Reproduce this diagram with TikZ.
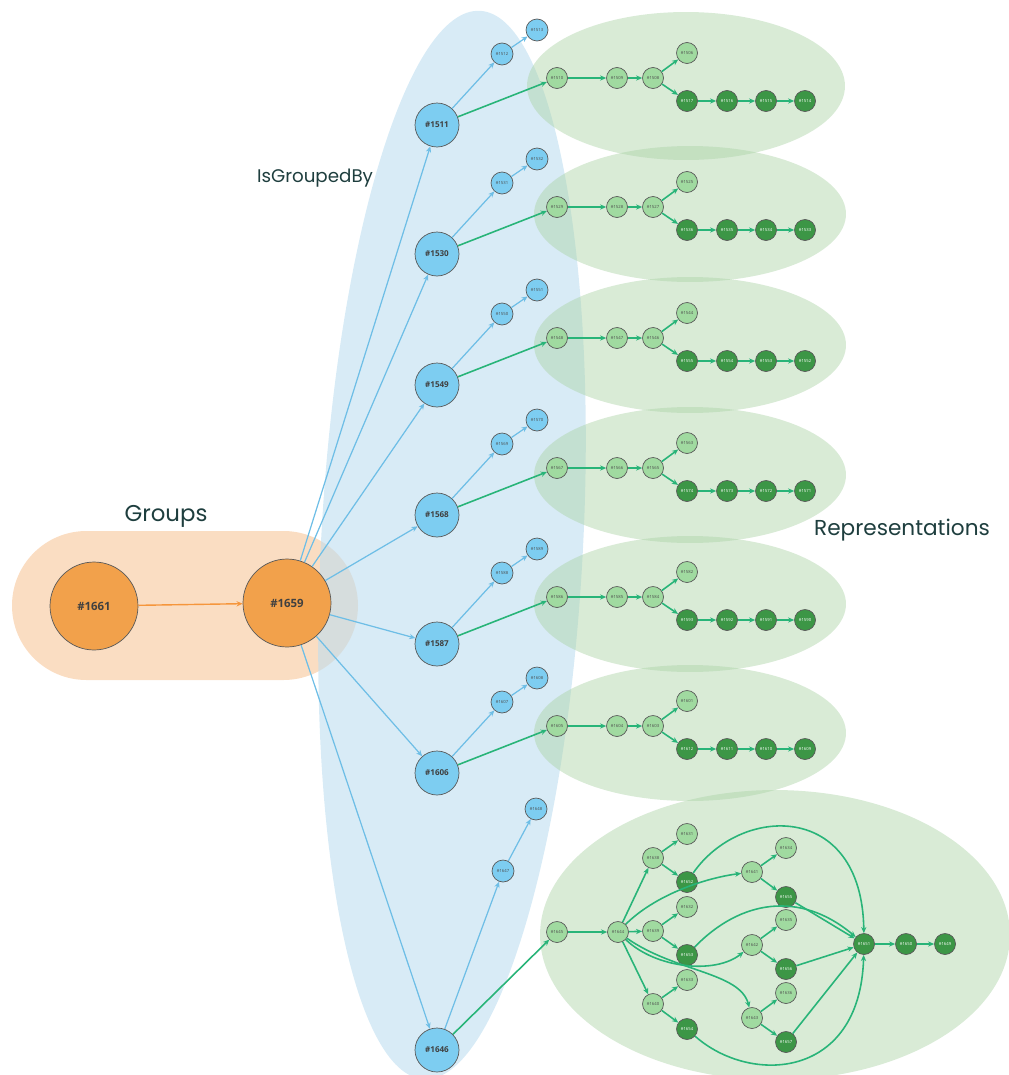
\documentclass[tikz,border=0pt]{standalone}
\usepackage{fontspec}
\setmainfont{Open Sans}
\newfontfamily\headfont{Poppins}
\usetikzlibrary{arrows.meta}

\definecolor{grouporange}{RGB}{242,161,75}
\definecolor{pillorange}{RGB}{245,180,120}
\definecolor{nodeblue}{RGB}{125,205,241}
\definecolor{bluebg}{RGB}{190,222,240}
\definecolor{replight}{RGB}{160,218,160}
\definecolor{repdarkcol}{RGB}{60,150,70}
\definecolor{repbg}{RGB}{170,210,165}
\definecolor{edgeblue}{RGB}{110,190,230}
\definecolor{edgegreen}{RGB}{40,180,120}
\definecolor{edgeorange}{RGB}{245,150,60}
\definecolor{headcol}{RGB}{30,62,62}

\begin{document}
\begin{tikzpicture}[x=0.02cm, y=-0.02cm,
    grp/.style={circle, draw=black!65, fill=grouporange, minimum size=1.76cm, inner sep=0pt,
        font=\fontsize{6.5}{7}\selectfont\bfseries, text=black!75},
    bigblue/.style={circle, draw=black!65, fill=nodeblue, minimum size=0.88cm, inner sep=0pt,
        font=\fontsize{4.6}{5}\selectfont\bfseries, text=black!75},
    smallblue/.style={circle, draw=black!65, fill=nodeblue, minimum size=0.44cm, inner sep=0pt,
        font=\fontsize{2.4}{3}\selectfont, text=black!70},
    rep/.style={circle, draw=black!65, fill=replight, minimum size=0.42cm, inner sep=0pt,
        font=\fontsize{2.4}{3}\selectfont, text=black!70},
    repdark/.style={rep, fill=repdarkcol, text=white},
    bluearrow/.style={draw=edgeblue, line width=0.7pt, -{Stealth[length=3.5pt,width=3pt]}},
    greenarrow/.style={draw=edgegreen, line width=0.9pt, -{Stealth[length=3.5pt,width=3pt]}},
    orangearrow/.style={draw=edgeorange, line width=0.8pt, -{Stealth[length=3.5pt,width=3pt]}},
    heading/.style={font=\headfont\fontsize{13}{15}\selectfont, text=headcol}]

    \useasboundingbox (0,0) rectangle (1008,1075);

    % backgrounds
    \fill[pillorange, fill opacity=0.45, rounded corners=1.49cm] (12,531) rectangle (358,680);
    \fill[bluebg, fill opacity=0.6, rotate around={-3:(452,545)}] (452,545) ellipse [x radius=2.62cm, y radius=10.7cm];
    \fill[repbg, fill opacity=0.45] (686,86) ellipse [x radius=3.18cm, y radius=1.48cm];
    \foreach \Y in {254,385,515,644,773}
        \fill[repbg, fill opacity=0.45] (690,{\Y-40}) ellipse [x radius=3.12cm, y radius=1.36cm];
    \fill[repbg, fill opacity=0.45] (775,935) ellipse [x radius=4.7cm, y radius=2.9cm];

    % headings
    \node[heading] (groupstitle) at (166,516) {Groups};
    \node[heading, font=\headfont\fontsize{10.4}{12}\selectfont] (groupedtitle) at (315,178) {IsGroupedBy};
    \node[heading, font=\headfont\fontsize{12.3}{14}\selectfont] (reptitle) at (902,530) {Representations};

    % groups
    \node[grp] (n1661) at (94,606) {\#1661};
    \node[grp] (n1659) at (287,603) {\#1659};
    \draw[orangearrow] (n1661) -- (n1659);

    % six simple rows
    \foreach \g/\Y in {1511/125,1530/254,1549/385,1568/515,1587/644,1606/773} {
        \pgfmathtruncatemacro\sa{\g+1}
        \pgfmathtruncatemacro\sb{\g+2}
        \pgfmathtruncatemacro\ca{\g-1}
        \pgfmathtruncatemacro\cb{\g-2}
        \pgfmathtruncatemacro\cc{\g-3}
        \pgfmathtruncatemacro\tp{\g-5}
        \pgfmathtruncatemacro\da{\g+6}
        \pgfmathtruncatemacro\db{\g+5}
        \pgfmathtruncatemacro\dc{\g+4}
        \pgfmathtruncatemacro\dd{\g+3}
        \node[bigblue] (n\g) at (437,\Y) {\#\g};
        \node[smallblue] (n\sa) at (502,{\Y-71}) {\#\sa};
        \node[smallblue] (n\sb) at (537,{\Y-95}) {\#\sb};
        \node[rep] (n\ca) at (557,{\Y-47}) {\#\ca};
        \node[rep] (n\cb) at (617,{\Y-47}) {\#\cb};
        \node[rep] (n\cc) at (653,{\Y-47}) {\#\cc};
        \node[rep] (n\tp) at (687,{\Y-72}) {\#\tp};
        \node[repdark] (n\da) at (687,{\Y-24}) {\#\da};
        \node[repdark] (n\db) at (727,{\Y-24}) {\#\db};
        \node[repdark] (n\dc) at (766,{\Y-24}) {\#\dc};
        \node[repdark] (n\dd) at (805,{\Y-24}) {\#\dd};
        \draw[bluearrow] (n1659) -- (n\g);
        \draw[bluearrow] (n\g) -- (n\sa);
        \draw[bluearrow] (n\sa) -- (n\sb);
        \draw[greenarrow] (n\g) -- (n\ca);
        \draw[greenarrow] (n\ca) -- (n\cb);
        \draw[greenarrow] (n\cb) -- (n\cc);
        \draw[greenarrow] (n\cc) -- (n\tp);
        \draw[greenarrow] (n\cc) -- (n\da);
        \draw[greenarrow] (n\da) -- (n\db);
        \draw[greenarrow] (n\db) -- (n\dc);
        \draw[greenarrow] (n\dc) -- (n\dd);
    }

    % last row
    \node[bigblue] (n1646) at (437,1050) {\#1646};
    \node[smallblue] (n1647) at (503,871) {\#1647};
    \node[smallblue] (n1648) at (536,809) {\#1648};
    \node[rep] (n1645) at (557,932) {\#1645};
    \node[rep] (n1644) at (618,932) {\#1644};
    \node[rep] (n1638) at (653,858) {\#1638};
    \node[rep] (n1639) at (653,931) {\#1639};
    \node[rep] (n1640) at (653,1004) {\#1640};
    \node[rep] (n1631) at (687,834) {\#1631};
    \node[repdark] (n1652) at (687,882) {\#1652};
    \node[rep] (n1632) at (687,907) {\#1632};
    \node[repdark] (n1653) at (687,955) {\#1653};
    \node[rep] (n1633) at (687,980) {\#1633};
    \node[repdark] (n1654) at (687,1029) {\#1654};
    \node[rep] (n1641) at (752,872) {\#1641};
    \node[rep] (n1642) at (752,945) {\#1642};
    \node[rep] (n1643) at (752,1018) {\#1643};
    \node[rep] (n1634) at (786,848) {\#1634};
    \node[repdark] (n1655) at (786,897) {\#1655};
    \node[rep] (n1635) at (786,920) {\#1635};
    \node[repdark] (n1656) at (786,969) {\#1656};
    \node[rep] (n1636) at (786,993) {\#1636};
    \node[repdark] (n1657) at (786,1042) {\#1657};
    \node[repdark] (n1651) at (864,944) {\#1651};
    \node[repdark] (n1650) at (906,944) {\#1650};
    \node[repdark] (n1649) at (945,944) {\#1649};

    \draw[bluearrow] (n1659) -- (n1646);
    \draw[bluearrow] (n1646) -- (n1647);
    \draw[bluearrow] (n1647) -- (n1648);
    \draw[greenarrow] (n1646) -- (n1645);
    \draw[greenarrow] (n1645) -- (n1644);
    \foreach \a/\b in {1644/1638,1644/1639,1644/1640,1638/1631,1638/1652,1639/1632,1639/1653,
                      1640/1633,1640/1654,1641/1634,1641/1655,1642/1635,1642/1656,1643/1636,
                      1643/1657,1655/1651,1656/1651,1657/1651,1651/1650,1650/1649}
        \draw[greenarrow] (n\a) -- (n\b);
    \draw[greenarrow] (n1644) .. controls (655,895) and (705,878) .. (n1641);
    \draw[greenarrow] (n1644) .. controls (655,968) and (715,975) .. (n1642);
    \draw[greenarrow] (n1644) .. controls (675,972) and (740,972) .. (n1643);
    \draw[greenarrow] (n1652) .. controls (740,805) and (862,800) .. (n1651);
    \draw[greenarrow] (n1653) .. controls (740,900) and (800,890) .. (n1651);
    \draw[greenarrow] (n1654) .. controls (750,1085) and (860,1080) .. (n1651);
\end{tikzpicture}
\end{document}
